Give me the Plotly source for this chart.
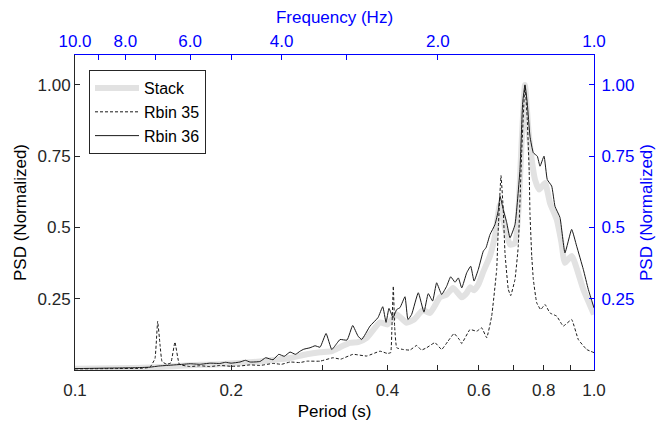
import plotly.graph_objects as go

# ---------------- data ----------------
stack_period = [0.100, 0.120, 0.140, 0.150, 0.160, 0.175, 0.190, 0.2079, 0.2273, 0.2407,
                0.2596, 0.2796, 0.2966, 0.3124, 0.3241, 0.3388, 0.3510, 0.3648, 0.3870, 0.4000,
                0.4167, 0.4350, 0.4500, 0.4682, 0.4830, 0.5049, 0.5202, 0.5349, 0.5439, 0.5561,
                0.5685, 0.5769, 0.5873, 0.5986, 0.6120, 0.6303, 0.6444, 0.6590, 0.6737, 0.6889,
                0.7043, 0.7146, 0.7255, 0.7362, 0.7470, 0.7586, 0.7697, 0.7845, 0.8046, 0.8226,
                0.8474, 0.8650, 0.8791, 0.9057, 0.9537, 1.000]
stack_psd = [0.004, 0.006, 0.009, 0.012, 0.015, 0.018, 0.020, 0.025, 0.030, 0.035,
             0.042, 0.055, 0.062, 0.066, 0.080, 0.095, 0.098, 0.113, 0.167, 0.160,
             0.195, 0.166, 0.177, 0.210, 0.200, 0.255, 0.265, 0.288, 0.275, 0.255,
             0.270, 0.290, 0.280, 0.300, 0.345, 0.400, 0.470, 0.580, 0.500, 0.440,
             0.445, 0.550, 0.800, 1.000, 0.850, 0.738, 0.668, 0.633, 0.656, 0.586,
             0.528, 0.450, 0.376, 0.400, 0.283, 0.195]

rbin35_period = [0.100, 0.120, 0.135, 0.1395, 0.1426, 0.1443, 0.1458, 0.1471, 0.1502, 0.1530,
                 0.1558, 0.1589, 0.1666, 0.1741, 0.1820, 0.1903, 0.1999, 0.2079, 0.2174, 0.2273,
                 0.2407, 0.2500, 0.2596, 0.2714, 0.2796, 0.2966, 0.3142, 0.3250, 0.3433, 0.3648,
                 0.3870, 0.4000, 0.4058, 0.4080, 0.4105, 0.4130, 0.4167, 0.4285, 0.4420, 0.4553,
                 0.4650, 0.4759, 0.4937, 0.5087, 0.5232, 0.5374, 0.5502, 0.5561, 0.5769, 0.5943,
                 0.6076, 0.6213, 0.6351, 0.6494, 0.6541, 0.6619, 0.6686, 0.6737, 0.6837, 0.6910,
                 0.7043, 0.7146, 0.7255, 0.7362, 0.7437, 0.7500, 0.7527, 0.7586, 0.7640, 0.7755,
                 0.7894, 0.8046, 0.8226, 0.8474, 0.8726, 0.9057, 0.9327, 0.9681, 1.000]
rbin35_psd = [0.004, 0.005, 0.006, 0.010, 0.040, 0.171, 0.090, 0.030, 0.020, 0.025,
              0.098, 0.020, 0.012, 0.015, 0.012, 0.016, 0.013, 0.014, 0.018, 0.016,
              0.023, 0.020, 0.028, 0.026, 0.031, 0.031, 0.043, 0.038, 0.055, 0.049,
              0.066, 0.058, 0.061, 0.150, 0.294, 0.150, 0.078, 0.072, 0.070, 0.086,
              0.070, 0.078, 0.096, 0.072, 0.101, 0.128, 0.107, 0.093, 0.142, 0.136,
              0.148, 0.113, 0.189, 0.353, 0.500, 0.682, 0.563, 0.411, 0.283, 0.261,
              0.318, 0.434, 0.762, 1.000, 0.880, 0.700, 0.550, 0.400, 0.318, 0.236,
              0.212, 0.230, 0.200, 0.189, 0.154, 0.177, 0.107, 0.072, 0.061]

rbin36_period = [0.1000, 0.1100, 0.1200, 0.1300, 0.1395, 0.1450, 0.1502, 0.1558, 0.1615, 0.1666,
                 0.1741, 0.1820, 0.1903, 0.1950, 0.1999, 0.2079, 0.2130, 0.2174, 0.2273, 0.2330,
                 0.2407, 0.2470, 0.2530, 0.2596, 0.2660, 0.2714, 0.2760, 0.2837, 0.2901, 0.2966,
                 0.3046, 0.3124, 0.3200, 0.3241, 0.3343, 0.3428, 0.3510, 0.3568, 0.3702, 0.3836,
                 0.3917, 0.3975, 0.4027, 0.4100, 0.4167, 0.4229, 0.4323, 0.4380, 0.4453, 0.4586,
                 0.4703, 0.4793, 0.4887, 0.4975, 0.5087, 0.5202, 0.5295, 0.5398, 0.5478, 0.5561,
                 0.5685, 0.5787, 0.5873, 0.5986, 0.6120, 0.6193, 0.6303, 0.6444, 0.6541, 0.6590,
                 0.6686, 0.6789, 0.6889, 0.7043, 0.7200, 0.7287, 0.7362, 0.7437, 0.7527, 0.7640,
                 0.7776, 0.7870, 0.8011, 0.8128, 0.8289, 0.8411, 0.8599, 0.8791, 0.9057, 0.9261,
                 0.9537, 0.9750, 1.0000]
rbin36_psd = [0.005, 0.006, 0.007, 0.008, 0.010, 0.014, 0.016, 0.018, 0.020, 0.022,
              0.020, 0.024, 0.023, 0.027, 0.024, 0.028, 0.034, 0.028, 0.030, 0.043,
              0.036, 0.055, 0.048, 0.063, 0.055, 0.066, 0.073, 0.078, 0.085, 0.080,
              0.128, 0.072, 0.095, 0.107, 0.105, 0.156, 0.119, 0.107, 0.154, 0.184,
              0.222, 0.167, 0.216, 0.184, 0.212, 0.219, 0.257, 0.177, 0.195, 0.271,
              0.203, 0.268, 0.242, 0.306, 0.265, 0.294, 0.327, 0.308, 0.323, 0.288,
              0.341, 0.364, 0.312, 0.353, 0.417, 0.429, 0.475, 0.510, 0.560, 0.610,
              0.563, 0.517, 0.464, 0.510, 0.703, 0.937, 1.000, 0.937, 0.820, 0.762,
              0.750, 0.715, 0.750, 0.668, 0.645, 0.574, 0.535, 0.411, 0.493, 0.434,
              0.353, 0.283, 0.218]

period_ticks = [0.1, 0.2, 0.3, 0.4, 0.5, 0.6, 0.7, 0.8, 0.9, 1.0]
period_labels = ["0.1", "0.2", "", "0.4", "", "0.6", "", "0.8", "", "1.0"]
freq_ticks = [10, 9, 8, 7, 6, 5, 4, 3, 2, 1]
freq_labels = ["10.0", "", "8.0", "", "6.0", "", "4.0", "", "2.0", "1.0"]
psd_ticks = [0.25, 0.5, 0.75, 1.0]
psd_labels = ["0.25", "0.5", "0.75", "1.00"]

# ---------------- figure ----------------
DARK = "#262626"
BLUE = "#0000ff"
FONT = "Liberation Sans, Arial, sans-serif"

fig = go.Figure()
fig.add_trace(go.Scatter(x=stack_period, y=stack_psd, name="Stack", mode="lines",
                         line=dict(color="#e2e2e2", width=6, shape="spline", smoothing=0.5)))
fig.add_trace(go.Scatter(x=rbin35_period, y=rbin35_psd, name="Rbin 35", mode="lines",
                         line=dict(color="#1a1a1a", width=1, dash="3px,2px",
                                   shape="spline", smoothing=0.3)))
fig.add_trace(go.Scatter(x=rbin36_period, y=rbin36_psd, name="Rbin 36", mode="lines",
                         line=dict(color="#1a1a1a", width=1, shape="spline", smoothing=0.4)))
# invisible trace tying the frequency / right axes
fig.add_trace(go.Scatter(x=[freq_ticks[0], freq_ticks[-1]], y=[0.5, 0.5], xaxis="x2", yaxis="y2",
                         mode="lines", line=dict(width=0, color="rgba(0,0,0,0)"),
                         showlegend=False, hoverinfo="skip"))

fig.update_layout(
    width=658, height=424,
    margin=dict(l=75, r=64, t=55, b=54, autoexpand=False),
    paper_bgcolor="white", plot_bgcolor="white",
    font=dict(family=FONT, size=17, color=DARK),
    showlegend=True,
    legend=dict(x=0.027, y=0.952, xanchor="left", yanchor="top",
                bgcolor="white", bordercolor=DARK, borderwidth=1, itemwidth=44,
                font=dict(size=16, color="#000000"), tracegroupgap=0),
    xaxis=dict(type="log", range=[-1, 0], tickvals=period_ticks, ticktext=period_labels,
               ticks="inside", ticklen=5, tickcolor=DARK, showline=True, linecolor=DARK,
               linewidth=1, showgrid=False, zeroline=False, tickfont=dict(size=17, color=DARK),
               ticklabelstandoff=5,
               title=dict(text="Period (s)", font=dict(size=17, color="#000000"), standoff=5),
               automargin=False),
    xaxis2=dict(type="log", range=[1, 0], overlaying="x", side="top", anchor="y2",
                tickvals=freq_ticks, ticktext=freq_labels,
                ticks="inside", ticklen=5, tickcolor=BLUE, showline=True, linecolor=BLUE,
                linewidth=1, showgrid=False, zeroline=False, tickfont=dict(size=17, color=BLUE),
                title=dict(text="Frequency (Hz)", font=dict(size=17, color=BLUE), standoff=4),
                automargin=False),
    yaxis=dict(range=[0, 1.105], tickvals=psd_ticks, ticktext=psd_labels,
               ticks="inside", ticklen=5, tickcolor=DARK, showline=True, linecolor=DARK,
               linewidth=1, showgrid=False, zeroline=False, tickfont=dict(size=17, color=DARK),
               title=dict(text="PSD (Normalized)", font=dict(size=17, color="#000000"), standoff=6),
               automargin=False),
    yaxis2=dict(range=[0, 1.105], overlaying="y", side="right", anchor="x2",
                tickvals=psd_ticks, ticktext=psd_labels,
                ticks="inside", ticklen=5, tickcolor=BLUE, showline=True, linecolor=BLUE,
                linewidth=1, showgrid=False, zeroline=False, tickfont=dict(size=17, color=BLUE),
                ticklabelstandoff=3,
                title=dict(text="PSD (Normalized)", font=dict(size=17, color=BLUE), standoff=6),
                automargin=False),
)

fig.write_html("out.html")
